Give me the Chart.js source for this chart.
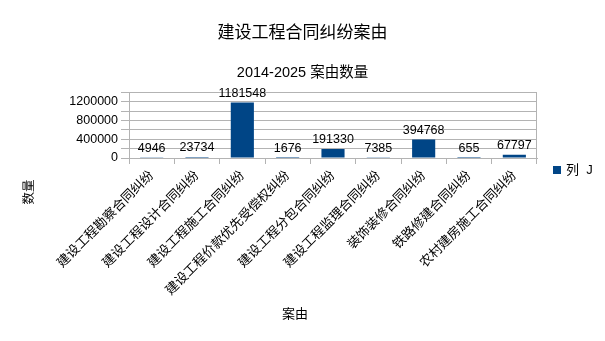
<!DOCTYPE html>
<html>
<head>
<meta charset="utf-8">
<script src="https://cdn.jsdelivr.net/npm/chart.js@4/dist/chart.umd.min.js"></script>
<style>
  html, body { margin: 0; padding: 0; background: #fff; }
  #wrap { width: 605px; height: 341px; }
</style>
</head>
<body>
<div id="wrap"><canvas id="chart"></canvas></div>
<script>
// data
const categories = [
  '建设工程勘察合同纠纷',
  '建设工程设计合同纠纷',
  '建设工程施工合同纠纷',
  '建设工程价款优先受偿权纠纷',
  '建设工程分包合同纠纷',
  '建设工程监理合同纠纷',
  '装饰装修合同纠纷',
  '铁路修建合同纠纷',
  '农村建房施工合同纠纷'
];
const counts = [4946, 23734, 1181548, 1676, 191330, 7385, 394768, 655, 67797];
const seriesName = '列 J';
const yMax = 1400000;
const yStep = 200000;
const yLabelStep = 400000;

const FONT = "'Liberation Sans', 'Noto Sans CJK SC', sans-serif";
const GRID = '#b3b3b3';
const BAR = '#004586';

// value labels above the bars
const barLabels = {
  id: 'barLabels',
  afterDatasetsDraw(chart)
  {
    const ctx = chart.ctx;
    const meta = chart.getDatasetMeta(0);
    ctx.save();
    ctx.font = '12.5px ' + FONT;
    ctx.fillStyle = '#000';
    ctx.textAlign = 'center';
    ctx.textBaseline = 'bottom';
    meta.data.forEach((bar, i) =>
    {
      ctx.fillText(String(counts[i]), bar.x, bar.y - 3);
    });
    ctx.restore();
  }
};

// axis titles and legend, placed like the original
const extras = {
  id: 'extras',
  afterDraw(chart)
  {
    const ctx = chart.ctx;
    ctx.save();
    ctx.fillStyle = '#000';
    ctx.textAlign = 'center';
    ctx.textBaseline = 'middle';
    ctx.font = '13px ' + FONT;
    ctx.fillText('案由', 295, 314);
    ctx.save();
    ctx.translate(30, 192);
    ctx.rotate(-Math.PI / 2);
    ctx.font = '12.5px ' + FONT;
    ctx.fillText('数量', 0, 0);
    ctx.restore();
    // legend
    ctx.fillStyle = BAR;
    ctx.fillRect(553, 166, 8, 8);
    ctx.fillStyle = '#000';
    ctx.textAlign = 'left';
    ctx.font = '13px ' + FONT;
    ctx.fillText('列  J', 566, 170.5);
    ctx.restore();
  }
};

new Chart(document.getElementById('chart'),
{
  type: 'bar',
  data: {
    labels: categories,
    datasets: [{
      label: seriesName,
      data: counts,
      backgroundColor: BAR,
      borderWidth: 0,
      categoryPercentage: 1,
      barPercentage: 0.51
    }]
  },
  options: {
    responsive: true,
    maintainAspectRatio: false,
    animation: false,
    devicePixelRatio: 1,
    layout: { padding: 0 },
    plugins: {
      legend: { display: false },
      tooltip: { enabled: false },
      title: {
        display: true,
        text: '建设工程合同纠纷案由',
        color: '#000',
        font: { family: FONT, size: 17, weight: 'normal' },
        padding: { top: 23, bottom: 10 }
      },
      subtitle: {
        display: true,
        text: '2014-2025 案由数量',
        color: '#000',
        font: { family: FONT, size: 14.5, weight: 'normal' },
        padding: { top: 10.5, bottom: 11 }
      }
    },
    scales: {
      x: {
        offset: true,
        afterFit: (s) => { s.height = 183; },
        grid: {
          offset: true,
          color: (c) => c.type === 'tick' ? 'rgba(0,0,0,0)' : GRID,
          tickColor: GRID,
          tickLength: 6
        },
        border: { color: GRID },
        ticks: {
          color: '#000',
          font: { family: FONT, size: 13 },
          minRotation: 45,
          maxRotation: 45,
          autoSkip: false,
          padding: 4
        }
      },
      y: {
        min: 0,
        max: yMax,
        afterFit: (s) => { s.width = 129; },
        grid: { color: GRID, tickColor: GRID, tickLength: 8 },
        border: { color: GRID },
        ticks: {
          stepSize: yStep,
          autoSkip: false,
          color: '#000',
          padding: 3,
          font: { family: FONT, size: 12.5 },
          callback: (v) => v % yLabelStep === 0 ? String(v) : ''
        }
      },
      // empty box on the right that keeps room for the legend
      side: {
        position: 'right',
        afterFit: (s) => { s.width = 68; },
        grid: { display: false },
        border: { display: false },
        ticks: { display: false }
      }
    }
  },
  plugins: [barLabels, extras]
});
</script>
</body>
</html>
